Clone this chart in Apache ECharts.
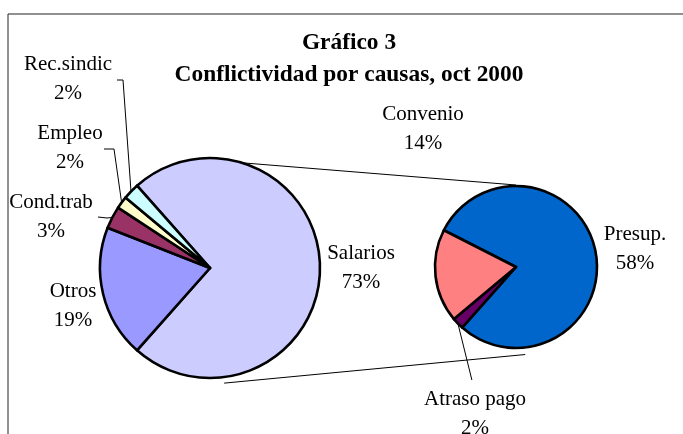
<!DOCTYPE html>
<html>
<head>
<meta charset="utf-8">
<title>Gráfico 3</title>
<script src="https://cdn.jsdelivr.net/npm/echarts@6/dist/echarts.min.js"></script>
<style>
	html, body { margin: 0; padding: 0; background: #fff; }
	#chart { width: 683px; height: 434px; }
</style>
</head>
<body>
<div id="chart"></div>
<script>
// datos: pie principal (% del total)
var mainCategories = ["Salarios", "Otros", "Cond.trab", "Empleo", "Rec.sindic"];
var mainValues = [73.1, 19.4, 3.3, 1.8, 2.4];
// desglose de Salarios (% del total)
var subCategories = ["Presup.", "Atraso pago", "Convenio"];
var subValues = [57.8, 1.7, 13.6];

var mainColors = ["#CCCCFF", "#9999FF", "#993366", "#FFFFCC", "#CCFFFF"];
var subColors = ["#0066CC", "#660066", "#FF8080"];

// layout
var mainCenter = [210, 268], mainR = 110;
var subCenter = [516, 267], subR = 81;
var fontFam = "'Liberation Serif', 'Times New Roman', serif";

// posicion de cada etiqueta (centro del bloque de texto)
var mainLabelPos = [[361, 268], [73, 306], [51, 217], [70, 148], [68, 79]];
var subLabelPos = [[635, 249], [475, 414], [423, 129]];
// tramos de linea guia desde la etiqueta (el ultimo punto es el borde del sector)
var mainLeaders = [null, null, [[98, 217], [107, 218]], [[104, 149], [114, 149]], [[117, 80], [123, 80]]];
var subLeaders = [null, "down", null];

function polar(c, r, deg) {
	var a = deg * Math.PI / 180;
	return [c[0] + r * Math.cos(a), c[1] - r * Math.sin(a)];
}

function fmt(p) {
	return p.name + "\n" + Math.round(p.value) + "%";
}

function buildData(names, values, colors, leaders) {
	var out = [];
	for (var i = 0; i < names.length; i++) {
		out.push({
			name: names[i],
			value: values[i],
			itemStyle: { color: colors[i] },
			labelLine: { show: !!leaders[i] }
		});
	}
	return out;
}

var total = 0;
for (var i = 0; i < mainValues.length; i++) total += mainValues[i];
// Salarios centrado a la derecha (como en Excel)
var mainStart = mainValues[0] / total * 180;

var labelStyle = {
	show: true,
	position: "outside",
	formatter: fmt,
	fontFamily: fontFam,
	fontSize: 21,
	lineHeight: 29,
	color: "#000",
	align: "center"
};

var up1 = polar(mainCenter, mainR, 73), up2 = polar(subCenter, subR + 1, 90);
var lo1 = polar(mainCenter, mainR + 6, -83), lo2 = polar(subCenter, subR + 7, -84);

var chart = echarts.init(document.getElementById("chart"), null, { renderer: "canvas" });
chart.setOption({
	backgroundColor: "#fff",
	animation: false,
	title: {
		text: "Gráfico 3\nConflictividad por causas, oct 2000",
		left: 349,
		top: 27,
		padding: 0,
		textAlign: "center",
		textStyle: {
			fontFamily: fontFam,
			fontWeight: "bold",
			fontSize: 23.4,
			lineHeight: 32,
			color: "#000"
		}
	},
	graphic: [
		{ type: "rect", z: -1, shape: { x: 8, y: 14, width: 720, height: 460 },
			style: { fill: "none", stroke: "#222", lineWidth: 1 } },
		{ type: "line", shape: { x1: up1[0], y1: up1[1], x2: up2[0], y2: up2[1] },
			style: { stroke: "#000", lineWidth: 1 } },
		{ type: "line", shape: { x1: lo1[0], y1: lo1[1], x2: lo2[0], y2: lo2[1] },
			style: { stroke: "#000", lineWidth: 1 } }
	],
	series: [
		{
			type: "pie",
			center: mainCenter,
			radius: mainR,
			startAngle: mainStart,
			clockwise: true,
			avoidLabelOverlap: false,
			emphasis: { disabled: true },
			itemStyle: { borderColor: "#000", borderWidth: 2.6 },
			label: labelStyle,
			labelLine: { lineStyle: { color: "#000", width: 1 } },
			labelLayout: function (params) {
				var p = mainLabelPos[params.dataIndex];
				var out = { x: p[0], y: p[1], align: "center", verticalAlign: "middle" };
				var lead = mainLeaders[params.dataIndex];
				if (lead && params.labelLinePoints) {
					out.labelLinePoints = lead.concat([params.labelLinePoints[0]]);
				}
				return out;
			},
			data: buildData(mainCategories, mainValues, mainColors, mainLeaders)
		},
		{
			type: "pie",
			center: subCenter,
			radius: subR,
			startAngle: 153,
			clockwise: true,
			avoidLabelOverlap: false,
			emphasis: { disabled: true },
			itemStyle: { borderColor: "#000", borderWidth: 2.6 },
			label: labelStyle,
			labelLine: { lineStyle: { color: "#000", width: 1 } },
			labelLayout: function (params) {
				var p = subLabelPos[params.dataIndex];
				var out = { x: p[0], y: p[1], align: "center", verticalAlign: "middle" };
				if (subLeaders[params.dataIndex] && params.labelLinePoints) {
					var a = params.labelLinePoints[0];
					out.labelLinePoints = [a, [a[0] + 14, 380]];
				}
				return out;
			},
			data: buildData(subCategories, subValues, subColors, subLeaders)
		}
	]
});
</script>
</body>
</html>
